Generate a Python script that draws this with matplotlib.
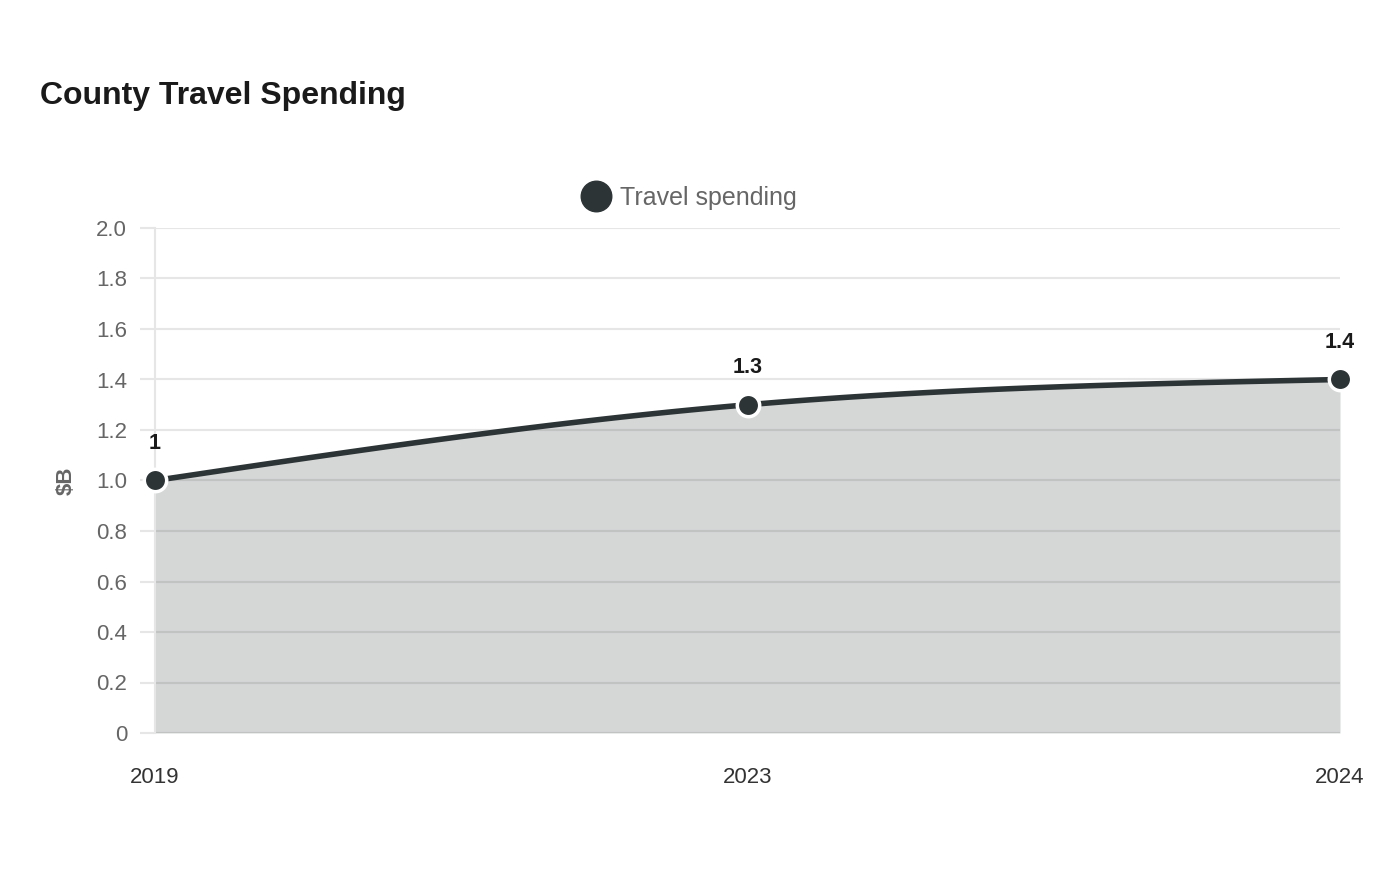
import numpy as np
import matplotlib.pyplot as plt

plt.rcParams['font.family'] = ['Liberation Sans', 'DejaVu Sans']

# data
years = ['2019', '2023', '2024']
spending = [1.0, 1.3, 1.4]
point_labels = ['1', '1.3', '1.4']
yticks = [0, 0.2, 0.4, 0.6, 0.8, 1.0, 1.2, 1.4, 1.6, 1.8, 2.0]
ytick_labels = ['0', '0.2', '0.4', '0.6', '0.8', '1.0', '1.2', '1.4', '1.6', '1.8', '2.0']

line_color = '#2d3436'
grid_color = '#e6e6e6'


def monotone_curve(x, y, n=60):
    # monotone cubic curve through the points, for drawing only
    x = np.asarray(x, float)
    y = np.asarray(y, float)
    h = np.diff(x)
    s = np.diff(y) / h
    t = np.zeros_like(y)
    for i in range(1, len(y) - 1):
        p = (s[i - 1] * h[i] + s[i] * h[i - 1]) / (h[i - 1] + h[i])
        t[i] = (np.sign(s[i - 1]) + np.sign(s[i])) * min(abs(s[i - 1]), abs(s[i]), 0.5 * abs(p))
    t[0] = (3 * s[0] - t[1]) / 2
    t[-1] = (3 * s[-1] - t[-2]) / 2
    xs, ys = [], []
    for i in range(len(h)):
        u = np.linspace(0, 1, n)
        h00 = 2 * u**3 - 3 * u**2 + 1
        h10 = u**3 - 2 * u**2 + u
        h01 = -2 * u**3 + 3 * u**2
        h11 = u**3 - u**2
        xs.append(x[i] + u * h[i])
        ys.append(h00 * y[i] + h10 * h[i] * t[i] + h01 * y[i + 1] + h11 * h[i] * t[i + 1])
    return np.concatenate(xs), np.concatenate(ys)


fig = plt.figure(figsize=(14, 8.8), dpi=100)
ax = fig.add_axes([155 / 1400, 147 / 880, 1185 / 1400, 505 / 880])

xpos = np.arange(len(years))
cx, cy = monotone_curve(xpos, spending)

ax.fill_between(cx, 0, cy, color=line_color, alpha=0.2, linewidth=0, zorder=2)
ax.plot(cx, cy, color=line_color, linewidth=4, solid_capstyle='butt', zorder=3)
ax.scatter(xpos, spending, s=260, color=line_color, edgecolors='white', linewidths=2.5,
           zorder=4, clip_on=False)

for x, v, lab in zip(xpos, spending, point_labels):
    ax.annotate(lab, (x, v), xytext=(0, 26.5), textcoords='offset points', ha='center',
                va='center', fontsize=15.5, fontweight='bold', color='#1a1a1a')

ax.set_xlim(0, len(years) - 1)
ax.set_ylim(0, 2.0)
ax.set_yticks(yticks)
ax.set_yticklabels(ytick_labels)
ax.set_xticks(xpos)
ax.set_xticklabels(years)

ax.grid(axis='y', color=grid_color, linewidth=1.5, zorder=1)
ax.set_axisbelow(True)
for side in ['top', 'right', 'bottom']:
    ax.spines[side].set_visible(False)
ax.spines['left'].set_color(grid_color)
ax.spines['left'].set_linewidth(1.5)

ax.tick_params(axis='y', length=11, width=1.5, color=grid_color, labelsize=16,
               labelcolor='#666666', pad=9)
ax.tick_params(axis='x', length=0, labelsize=16, labelcolor='#333333', pad=24.5)

ax.set_ylabel('$B', fontsize=16, fontweight='bold', color='#666666')
ax.yaxis.set_label_coords(-0.066, 0.5)

fig.text(40 / 1400, 1 - 96 / 880, 'County Travel Spending', fontsize=23, fontweight='bold',
         color='#1a1a1a', va='center', ha='left')

# legend
fig.add_artist(plt.Line2D([596 / 1400], [1 - 196 / 880], marker='o', markersize=22,
                          color=line_color, linestyle='none', transform=fig.transFigure))
fig.text(620 / 1400, 1 - 197.5 / 880, 'Travel spending', fontsize=18, color='#666666',
         va='center', ha='left')

fig.savefig('out.png', dpi=100, facecolor='white')
